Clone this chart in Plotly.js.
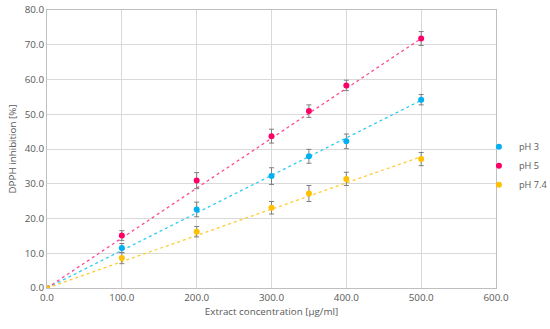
<!DOCTYPE html>
<html><head><meta charset="utf-8">
<script src="https://cdn.plot.ly/plotly-3.0.1.min.js"></script>
<style>html,body{margin:0;padding:0;background:#fff}#c{width:550px;height:329px}</style>
</head><body><div id="c"></div>
<script>
var conc = [0, 100, 200, 300, 350, 400, 500];
var ph3 = [0, 11.5, 22.6, 32.2, 37.9, 42.2, 54.2];
var ph3Err = [0, 1.3, 2.1, 2.4, 2.0, 2.1, 1.5];
var ph5 = [0, 15.1, 30.9, 43.7, 50.9, 58.3, 71.8];
var ph5Err = [0, 1.4, 2.3, 2.0, 1.8, 1.5, 2.0];
var ph74 = [0, 8.6, 16.2, 23.1, 27.2, 31.4, 37.1];
var ph74Err = [0, 1.6, 1.5, 1.8, 2.3, 1.9, 1.9];
var trendX = [0, 500];
var ph3Trend = [0, 54.0];
var ph5Trend = [0, 71.8];
var ph74Trend = [0, 37.8];
var names = ["pH 3", "pH 5", "pH 7.4"];
var colors = ["#00b0f0", "#ff0066", "#ffc000"];
var trendColors = ["#33ccf5", "#ff4d94", "#ffcc33"];
var ys = [ph3, ph5, ph74], errs = [ph3Err, ph5Err, ph74Err], trends = [ph3Trend, ph5Trend, ph74Trend];

var data = [];
for (var i = 0; i < 3; i++) {
  data.push({x: trendX, y: trends[i], mode: 'lines', showlegend: false, hoverinfo: 'skip',
    line: {color: trendColors[i], width: 1.3, dash: 'dot'}});
}
for (var i = 0; i < 3; i++) {
  data.push({x: conc, y: ys[i], name: names[i], mode: 'markers', type: 'scatter',
    marker: {color: colors[i], size: 6},
    error_y: {type: 'data', array: errs[i], visible: true, color: '#7f7f7f', thickness: 1, width: 2.5}});
}
var font = {family: 'Open Sans, sans-serif', size: 9.8, color: '#595959'};
var legendFont = {family: 'Open Sans, sans-serif', size: 9.2, color: '#595959'};
var layout = {
  width: 550, height: 329,
  margin: {l: 47, r: 54, t: 10, b: 41, autoexpand: false},
  paper_bgcolor: '#fff', plot_bgcolor: '#fff',
  font: font,
  xaxis: {range: [0, 600], dtick: 100, tickformat: '.1f', showgrid: true, gridcolor: '#d9d9d9',
    zeroline: false, showline: true, linecolor: '#bfbfbf', mirror: true, ticks: '', tickfont: font,
    title: {text: 'Extract concentration [μg/ml]', font: font, standoff: 5}},
  yaxis: {range: [0, 80], dtick: 10, tickformat: '.1f', showgrid: true, gridcolor: '#d9d9d9',
    zeroline: false, showline: true, linecolor: '#bfbfbf', mirror: true, ticks: '', tickfont: font,
    title: {text: 'DPPH inhibition [%]', font: font, standoff: 6}},
  legend: {x: 0.962, xanchor: 'left', y: 0.44, yanchor: 'middle', font: legendFont, itemwidth: 30,
    tracegroupgap: 0, bgcolor: 'rgba(0,0,0,0)'},
  showlegend: true
};
Plotly.newPlot('c', data, layout, {displayModeBar: false, staticPlot: true});
</script></body></html>
